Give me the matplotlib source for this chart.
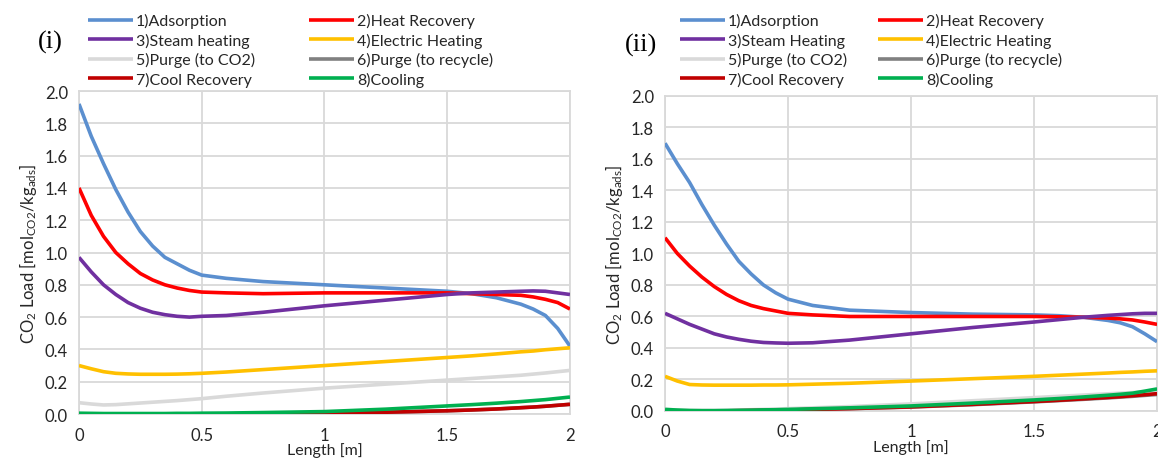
import numpy as np
import matplotlib
matplotlib.use('Agg')
from matplotlib import pyplot as plt

plt.rcParams['font.family'] = ['Lato', 'DejaVu Sans']
plt.rcParams['mathtext.fontset'] = 'custom'
plt.rcParams['mathtext.rm'] = 'Lato'
plt.rcParams['mathtext.it'] = 'Lato'

labels_i = ['1)Adsorption', '2)Heat Recovery', '3)Steam heating', '4)Electric Heating',
            '5)Purge (to CO2)', '6)Purge (to recycle)', '7)Cool Recovery', '8)Cooling']
labels_ii = ['1)Adsorption', '2)Heat Recovery', '3)Steam Heating', '4)Electric Heating',
             '5)Purge (to CO2)', '6)Purge (to recycle)', '7)Cool Recovery', '8)Cooling']
colors = ['#5B8FCF', '#FF0000', '#7030A0', '#FFC000', '#D9D9D9', '#808080', '#C00000', '#00B050']

# panel (i)
x = [0, 0.05, 0.1, 0.15, 0.2, 0.25, 0.3, 0.35, 0.4, 0.45, 0.5, 0.6, 0.75, 1.0, 1.25, 1.5,
     1.6, 1.7, 1.8, 1.85, 1.9, 1.95, 2.0]
ads_i = [1.92, 1.72, 1.55, 1.39, 1.25, 1.13, 1.04, 0.97, 0.93, 0.89, 0.86, 0.84, 0.82, 0.80, 0.78, 0.76,
         0.745, 0.72, 0.68, 0.65, 0.61, 0.53, 0.42]
heat_i = [1.40, 1.23, 1.10, 1.00, 0.93, 0.87, 0.83, 0.80, 0.78, 0.765, 0.755, 0.75, 0.745, 0.75, 0.75, 0.75,
          0.745, 0.74, 0.735, 0.725, 0.71, 0.69, 0.65]
steam_i = [0.97, 0.88, 0.80, 0.74, 0.69, 0.655, 0.63, 0.615, 0.605, 0.60, 0.605, 0.61, 0.63, 0.67, 0.705, 0.74,
           0.75, 0.755, 0.76, 0.762, 0.76, 0.75, 0.74]
elec_i = [0.30, 0.28, 0.262, 0.252, 0.248, 0.246, 0.246, 0.246, 0.247, 0.249, 0.252, 0.26, 0.275, 0.30, 0.325, 0.35,
          0.36, 0.372, 0.385, 0.39, 0.398, 0.404, 0.41]
purge_i = [0.07, 0.062, 0.056, 0.058, 0.063, 0.068, 0.073, 0.078, 0.083, 0.089, 0.095, 0.11, 0.13, 0.16, 0.185, 0.21,
           0.22, 0.23, 0.24, 0.247, 0.254, 0.262, 0.27]
recyc_i = [0.0, 0.0, 0.0, 0.0, 0.0, 0.0, 0.0, 0.0, 0.0, 0.0, 0.0, 0.001, 0.002, 0.005, 0.011, 0.02,
           0.025, 0.031, 0.039, 0.043, 0.048, 0.054, 0.06]
cool_i = [0.0, 0.0, 0.0, 0.0, 0.0, 0.0, 0.0, 0.0, 0.0, 0.0, 0.0, 0.001, 0.002, 0.005, 0.011, 0.02,
          0.025, 0.031, 0.039, 0.043, 0.048, 0.054, 0.06]
cooling_i = [0.005, 0.004, 0.003, 0.003, 0.003, 0.003, 0.003, 0.003, 0.004, 0.004, 0.005, 0.006, 0.009, 0.015, 0.03, 0.05,
             0.058, 0.067, 0.077, 0.083, 0.089, 0.097, 0.105]

# panel (ii)
ads_ii = [1.70, 1.57, 1.45, 1.31, 1.18, 1.06, 0.95, 0.87, 0.80, 0.75, 0.71, 0.67, 0.64, 0.625, 0.615, 0.61,
          0.605, 0.595, 0.575, 0.56, 0.535, 0.49, 0.44]
heat_ii = [1.10, 1.00, 0.92, 0.85, 0.79, 0.74, 0.70, 0.67, 0.65, 0.635, 0.62, 0.61, 0.60, 0.60, 0.60, 0.60,
           0.598, 0.595, 0.59, 0.585, 0.578, 0.565, 0.55]
steam_ii = [0.62, 0.585, 0.55, 0.52, 0.49, 0.47, 0.455, 0.443, 0.435, 0.432, 0.43, 0.433, 0.45, 0.49, 0.53, 0.565,
            0.58, 0.595, 0.607, 0.612, 0.617, 0.62, 0.62]
elec_ii = [0.22, 0.19, 0.168, 0.165, 0.164, 0.164, 0.164, 0.164, 0.165, 0.165, 0.166, 0.17, 0.176, 0.19, 0.205, 0.22,
           0.227, 0.234, 0.241, 0.245, 0.248, 0.252, 0.255]
purge_ii = [0.01, 0.006, 0.004, 0.004, 0.004, 0.005, 0.006, 0.008, 0.01, 0.012, 0.015, 0.02, 0.028, 0.045, 0.065, 0.085,
            0.093, 0.101, 0.109, 0.113, 0.117, 0.121, 0.125]
recyc_ii = [0.0, 0.0, 0.0, 0.0, 0.0, 0.001, 0.002, 0.003, 0.004, 0.005, 0.006, 0.01, 0.015, 0.025, 0.04, 0.058,
            0.066, 0.074, 0.083, 0.088, 0.093, 0.099, 0.105]
cool_ii = [0.0, 0.0, 0.0, 0.0, 0.0, 0.001, 0.002, 0.003, 0.004, 0.005, 0.006, 0.01, 0.015, 0.026, 0.042, 0.06,
           0.068, 0.077, 0.086, 0.091, 0.097, 0.103, 0.11]
cooling_ii = [0.01, 0.006, 0.003, 0.002, 0.002, 0.003, 0.004, 0.005, 0.007, 0.008, 0.01, 0.014, 0.02, 0.032, 0.05, 0.07,
              0.079, 0.089, 0.1, 0.106, 0.113, 0.126, 0.14]

data_i = [ads_i, heat_i, steam_i, elec_i, purge_i, recyc_i, cool_i, cooling_i]
data_ii = [ads_ii, heat_ii, steam_ii, elec_ii, purge_ii, recyc_ii, cool_ii, cooling_ii]

yticks = np.arange(0, 2.01, 0.2)
xticks = [0, 0.5, 1, 1.5, 2]
xticklabels = ['0', '0.5', '1', '1.5', '2']

fig = plt.figure(figsize=(11.58, 4.64), dpi=100)

def draw(rect, data, labels, tag, tagpos, legbox):
    ax = fig.add_axes(rect)
    lines = []
    # excel order: later series on top
    for k in range(8):
        l, = ax.plot(x, data[k], color=colors[k], lw=2.6, label=labels[k], zorder=3 + k * 0.01,
                     solid_capstyle='butt')
        lines.append(l)
    ax.set_xlim(0, 2)
    ax.set_ylim(0, 2)
    ax.set_yticks(yticks)
    ax.set_yticklabels(['%.1f' % v for v in yticks])
    ax.set_xticks(xticks)
    ax.set_xticklabels(xticklabels)
    ax.grid(True, color='#D9D9D9', lw=1.3)
    ax.set_axisbelow(True)
    for s in ax.spines.values():
        s.set_color('#D9D9D9')
        s.set_linewidth(1.3)
    ax.tick_params(length=0, labelsize=12, colors='#262626')
    ax.tick_params(axis='x', pad=9)
    ax.tick_params(axis='y', pad=8)
    ax.set_xlabel('Length [m]', fontsize=11.5, color='#262626', labelpad=0)
    ax.set_ylabel(r'CO$_2$ Load [mol$_{\mathrm{CO2}}$/kg$_{\mathrm{ads}}$]', fontsize=12, color='#262626',
                  labelpad=4)
    order = [0, 2, 4, 6, 1, 3, 5, 7]
    leg = fig.legend([lines[k] for k in order], [labels[k] for k in order], ncol=2, mode='expand',
                     bbox_to_anchor=legbox, loc='lower left', frameon=False, fontsize=11.5,
                     handlelength=2.8, handletextpad=0.2, labelspacing=0.28, borderpad=0,
                     borderaxespad=0)
    for t in leg.get_texts():
        t.set_color('#262626')
    fig.text(tagpos[0], tagpos[1], tag, family='Liberation Serif', fontsize=19, ha='center', va='center')
    return ax

draw([0.0682, 0.1056, 0.4240, 0.6961], data_i, labels_i, '(i)', (50 / 1158, 1 - 42 / 464),
     (88 / 1158, 1 - 88 / 464, 405 / 1158, 78 / 464))
draw([0.5743, 0.1121, 0.4249, 0.6789], data_ii, labels_ii, '(ii)', (641 / 1158, 1 - 45 / 464),
     (680 / 1158, 1 - 88 / 464, 382 / 1158, 78 / 464))

fig.savefig('out.png', dpi=100)
